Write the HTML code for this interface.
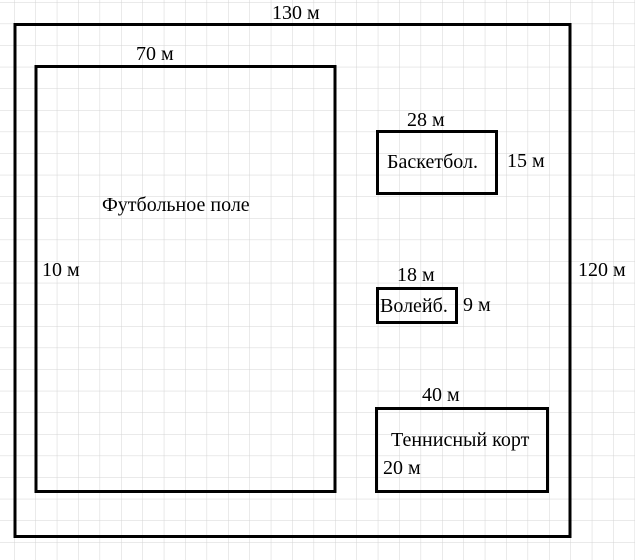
<!DOCTYPE html>
<html><head><meta charset="utf-8"><style>
html,body{margin:0;padding:0;background:#fff}
svg{display:block}
text{font-family:"Liberation Serif",serif;font-size:20px;fill:#000}
</style></head><body>
<svg width="635" height="560" viewBox="0 0 635 560" xmlns="http://www.w3.org/2000/svg">
<defs>
<pattern id="g" x="14" y="2" width="21.4" height="21.6" patternUnits="userSpaceOnUse">
<path d="M0 0V21.6M0 0H21.4" stroke="#d4d4d4" stroke-width="1" fill="none"/>
</pattern>
</defs>
<rect width="635" height="560" fill="url(#g)"/>
<g fill="none" stroke="#000" stroke-width="3">
<rect x="15" y="24.5" width="555" height="512"/>
<rect x="36" y="66.5" width="299" height="425"/>
<rect x="377.5" y="131.5" width="119" height="62"/>
<rect x="377.5" y="288.5" width="79" height="34"/>
<rect x="376.5" y="408.5" width="171" height="83"/>
</g>
<text x="272" y="19">130 м</text>
<text x="136" y="60">70 м</text>
<text x="102" y="211">Футбольное поле</text>
<text x="42" y="276">10 м</text>
<text x="407" y="126">28 м</text>
<text x="387" y="168">Баскетбол.</text>
<text x="507" y="167">15 м</text>
<text x="397" y="281">18 м</text>
<text x="380" y="312">Волейб.</text>
<text x="463" y="311">9 м</text>
<text x="578" y="276">120 м</text>
<text x="422" y="401">40 м</text>
<text x="391" y="446">Теннисный корт</text>
<text x="383" y="474">20 м</text>
</svg>
</body></html>
